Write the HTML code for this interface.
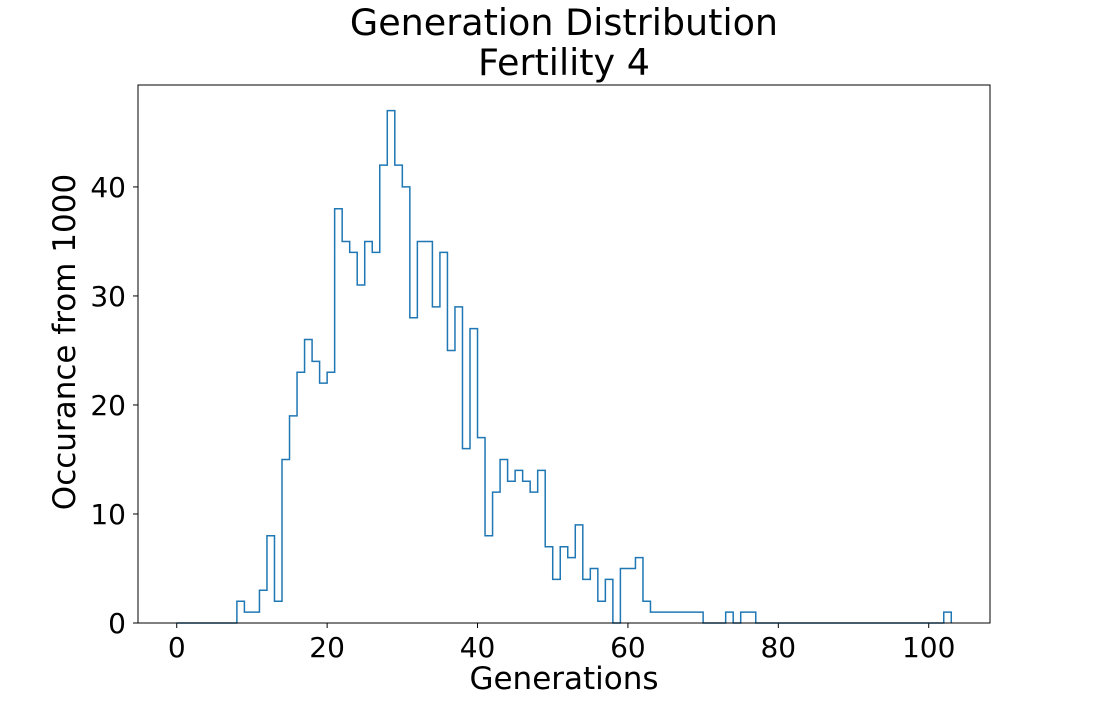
<!DOCTYPE html>
<html><head><meta charset="utf-8"><style>
body{margin:0;background:#fff;}
svg text{font-family:"DejaVu Sans","Liberation Sans",sans-serif;fill:#000;}
</style></head><body>
<svg id="chart" width="1100" height="700">
<rect width="1100" height="700" fill="#fff"/>
<text x="564" y="35" font-size="36.5" text-anchor="middle">Generation Distribution</text>
<text x="564" y="75" font-size="36.5" text-anchor="middle">Fertility 4</text>
<g id="ticks"></g>
<path id="hist" fill="none" stroke="#1f77b4" stroke-width="1.5"/>
<rect x="138" y="85" width="852" height="538" fill="none" stroke="#000" stroke-width="1"/>
<text x="564" y="689" font-size="31" text-anchor="middle">Generations</text>
<text x="0" y="0" font-size="31" text-anchor="middle" transform="translate(75,342) rotate(-90)">Occurance from 1000</text>
</svg>
<script>
const binStart = 0;
const counts = [0,0,0,0,0,0,0,0,2,1,1,3,8,2,15,19,23,26,24,22,23,38,35,34,31,35,34,42,47,42,40,28,35,35,29,34,25,29,16,27,17,8,12,15,13,14,13,12,14,7,4,7,6,9,4,5,2,4,0,5,5,6,2,1,1,1,1,1,1,1,0,0,0,1,0,1,1,0,0,0,0,0,0,0,0,0,0,0,0,0,0,0,0,0,0,0,0,0,0,0,0,0,1];
const xTicks = [0,20,40,60,80,100];
const yTicks = [0,10,20,30,40];
const X0=138,X1=990,Y0=623,Y1=85;
const xMin=-5.15,xMax=108.15,yMin=0,yMax=49.35;
function xs(v){return X0+(v-xMin)/(xMax-xMin)*(X1-X0);}
function ys(v){return Y0-(v-yMin)/(yMax-yMin)*(Y0-Y1);}
let d='M'+xs(binStart)+','+ys(0);
counts.forEach((c,i)=>{d+=' L'+xs(binStart+i)+','+ys(c)+' L'+xs(binStart+i+1)+','+ys(c);});
d+=' L'+xs(binStart+counts.length)+','+ys(0);
document.getElementById('hist').setAttribute('d',d);
const g=document.getElementById('ticks');
const ns='http://www.w3.org/2000/svg';
xTicks.forEach(t=>{
  const l=document.createElementNS(ns,'line');
  l.setAttribute('x1',xs(t));l.setAttribute('x2',xs(t));l.setAttribute('y1',Y0);l.setAttribute('y2',Y0+5);l.setAttribute('stroke','#000');
  
  
  g.appendChild(l);
  const tx=document.createElementNS(ns,'text');
  tx.setAttribute('x',xs(t));tx.setAttribute('y',Y0+34);tx.setAttribute('font-size','28');tx.setAttribute('text-anchor','middle');
  tx.textContent=t;
  
  
  g.appendChild(tx);
});
yTicks.forEach(t=>{
  const l=document.createElementNS(ns,'line');
  l.setAttribute('x1',X0-5);l.setAttribute('x2',X0);l.setAttribute('y1',ys(t));l.setAttribute('y2',ys(t));l.setAttribute('stroke','#000');
  
  
  g.appendChild(l);
  const tx=document.createElementNS(ns,'text');
  tx.setAttribute('x',X0-12);tx.setAttribute('y',ys(t)+10);tx.setAttribute('font-size','28');tx.setAttribute('text-anchor','end');
  tx.textContent=t;
  
  
  g.appendChild(tx);
});
</script>
</body></html>
